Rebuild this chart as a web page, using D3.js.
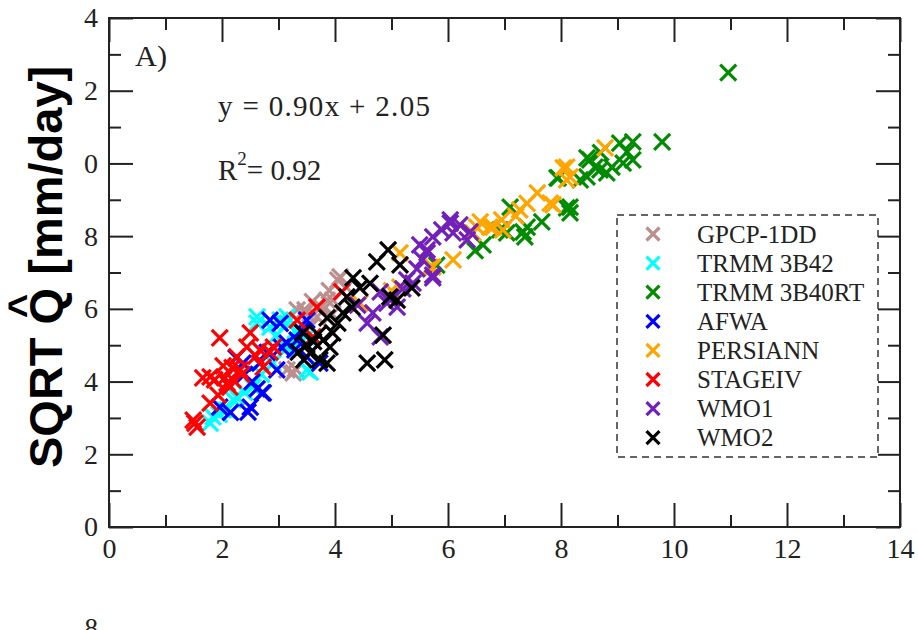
<!DOCTYPE html>
<html>
<head>
<meta charset="utf-8">
<script src="https://cdn.jsdelivr.net/npm/d3@7"></script>
<style>
  body { margin: 0; background: #fff; }
  svg { display: block; }
</style>
</head>
<body>
<svg width="918" height="630"></svg>
<script>
// series names and colours (xmgrace palette)
const seriesNames = ["GPCP-1DD", "TRMM 3B42", "TRMM 3B40RT", "AFWA", "PERSIANN", "STAGEIV", "WMO1", "WMO2"];
const seriesColors = ["#bc8f8f", "#00ffff", "#008b00", "#0000ff", "#ffa500", "#ff0000", "#7220b9", "#000000"];

// [x, y] pairs
const gpcp = [[3.15,4.32],[3.26,4.24],[3.30,4.35],[3.33,5.97],[3.47,5.97],[3.47,5.89],[3.56,5.50],[3.68,5.78],[3.86,6.24],[3.96,6.24],[4.05,6.79],[4.09,6.88],[3.90,6.50],[3.75,6.05],[4.20,6.60],[3.60,6.20],[3.95,5.85]];
const trmm3b42 = [[1.79,2.86],[1.84,3.03],[2.02,3.22],[2.09,3.22],[2.20,3.50],[2.26,3.58],[2.40,3.70],[2.55,3.85],[2.62,5.61],[2.62,5.78],[2.85,5.50],[3.03,5.69],[3.15,5.61],[3.15,5.78],[3.12,4.87],[3.15,4.95],[3.38,5.14],[3.50,4.32],[3.56,4.26],[3.50,5.23],[2.90,4.50],[2.70,4.20],[3.30,5.40],[2.95,5.25],[1.95,3.10]];
const trmm3b40rt = [[6.48,7.60],[6.62,7.76],[6.92,8.17],[7.04,8.09],[7.10,8.80],[7.33,8.12],[7.36,7.98],[7.40,8.25],[7.66,8.39],[7.93,9.60],[7.95,9.60],[8.10,8.78],[8.16,8.80],[8.16,8.64],[8.34,9.55],[8.46,9.63],[8.46,10.15],[8.51,10.10],[8.60,9.90],[8.69,9.82],[8.81,9.74],[8.90,9.90],[9.04,10.56],[9.10,10.01],[9.17,10.32],[9.27,10.10],[9.27,10.59],[9.79,10.59],[10.96,12.50],[8.70,10.30],[5.80,7.20]];
const afwa = [[1.96,3.30],[2.15,3.15],[2.46,3.16],[2.50,3.30],[2.62,3.80],[2.71,3.69],[2.73,3.69],[2.53,3.99],[2.37,4.51],[2.67,4.51],[2.97,4.32],[2.85,5.69],[3.03,5.60],[3.15,5.06],[3.29,4.87],[3.33,5.14],[3.50,5.69],[3.50,4.68],[3.73,4.51],[2.80,4.80],[3.05,4.95],[2.40,4.20],[2.25,4.65],[3.40,5.40]];
const persiann = [[4.44,6.16],[5.00,6.50],[5.15,6.60],[5.15,7.54],[5.68,7.15],[5.73,7.15],[6.09,7.35],[6.44,8.09],[6.51,8.25],[6.57,8.39],[6.74,8.25],[6.80,8.25],[6.97,8.17],[7.27,8.72],[7.40,8.90],[7.58,9.19],[7.81,8.91],[7.86,8.86],[8.04,9.88],[8.10,9.55],[8.10,9.90],[8.16,9.63],[8.78,10.43],[7.20,8.55],[6.95,8.45]];
const stageiv = [[1.49,2.94],[1.56,2.75],[1.52,2.86],[1.66,4.10],[1.79,4.13],[1.87,4.05],[1.96,5.20],[1.93,3.63],[1.79,3.41],[2.09,3.96],[2.14,3.85],[2.20,4.04],[2.32,4.32],[2.26,4.68],[2.44,4.95],[2.50,5.34],[2.67,4.87],[2.73,4.40],[2.85,4.81],[2.91,4.95],[3.33,5.69],[2.18,4.38],[2.02,4.43],[3.68,6.05],[4.12,6.47],[3.61,5.23],[2.05,4.10],[2.35,4.20],[2.60,4.70]];
const wmo1 = [[4.57,5.61],[4.67,5.89],[4.80,5.23],[4.80,6.47],[4.92,6.16],[5.10,6.05],[5.00,6.30],[5.27,6.80],[5.38,6.71],[5.45,7.10],[5.50,7.76],[5.63,7.54],[5.63,7.62],[5.73,7.98],[5.73,6.85],[5.73,6.93],[5.89,8.17],[6.04,8.36],[6.04,8.45],[6.09,8.09],[6.21,8.31],[6.34,7.90],[6.39,8.12],[5.55,7.35],[5.20,6.55],[4.40,6.10]];
const wmo2 = [[3.35,4.81],[3.43,5.34],[3.56,4.79],[3.62,5.10],[3.73,4.60],[3.79,5.14],[3.86,4.51],[3.86,5.75],[3.91,4.95],[3.96,5.34],[4.05,5.61],[4.14,5.89],[4.21,6.33],[4.30,6.05],[4.32,6.85],[4.44,6.58],[4.62,6.70],[4.74,7.29],[4.94,7.62],[4.97,6.33],[5.10,6.24],[5.15,7.21],[5.36,6.58],[4.85,5.28],[4.57,4.51],[4.88,4.60],[3.70,5.30],[3.50,5.00],[3.45,4.60]];

const seriesData = [gpcp, trmm3b42, trmm3b40rt, afwa, persiann, stageiv, wmo1, wmo2];

const xTicks = [0, 2, 4, 6, 8, 10, 12, 14];
const yTicks = [0, 2, 4, 6, 8, 10, 12, 14];
const minorTicks = [1, 3, 5, 7, 9, 11, 13];

const fitText = "y = 0.90x + 2.05";
const r2Value = "0.92";

const svg = d3.select('svg');
const margin = { top: 18, right: 18, bottom: 103, left: 109 };
const width = +svg.attr('width');
const height = +svg.attr('height');

const xScale = d3.scaleLinear().domain([0, 14]).range([margin.left, width - margin.right]);
const yScale = d3.scaleLinear().domain([0, 14]).range([height - margin.bottom, margin.top]);

const serif = "'Liberation Serif', 'Times New Roman', serif";
const ink = "#222";

// x marker path
const cross = s => `M${-s},${-s}L${s},${s}M${-s},${s}L${s},${-s}`;

// points
svg.append("g")
    .selectAll("g")
    .data(seriesData)
    .join("g")
        .attr("stroke", (d, i) => seriesColors[i])
        .attr("stroke-width", 3.2)
        .attr("fill", "none")
    .selectAll("path")
    .data(d => d)
    .join("path")
        .attr("transform", d => `translate(${xScale(d[0])},${yScale(d[1])})`)
        .attr("d", cross(8));

// axes with inward ticks on all four sides
const styleAxis = g => {
    g.selectAll(".domain").remove();
    g.selectAll("line").attr("stroke", ink).attr("stroke-width", 2);
    g.selectAll("text").attr("fill", ink).attr("font-family", serif).attr("font-size", 28);
};

const bottomY = height - margin.bottom;

svg.append("g")
    .attr("transform", `translate(0,${bottomY})`)
    .call(d3.axisBottom(xScale).tickValues(xTicks).tickSize(-24).tickPadding(11).tickFormat(d3.format("d")))
    .call(styleAxis);
svg.append("g")
    .attr("transform", `translate(0,${bottomY})`)
    .call(d3.axisBottom(xScale).tickValues(minorTicks).tickSize(-12).tickFormat(""))
    .call(styleAxis);

svg.append("g")
    .attr("transform", `translate(0,${margin.top})`)
    .call(d3.axisTop(xScale).tickValues(xTicks).tickSize(-24).tickFormat(""))
    .call(styleAxis);
svg.append("g")
    .attr("transform", `translate(0,${margin.top})`)
    .call(d3.axisTop(xScale).tickValues(minorTicks).tickSize(-12).tickFormat(""))
    .call(styleAxis);

// left labels lost their leading "1" where the figure was cropped
svg.append("g")
    .attr("transform", `translate(${margin.left},0)`)
    .call(d3.axisLeft(yScale).tickValues(yTicks).tickSize(-24).tickPadding(11).tickFormat(d => String(d % 10)))
    .call(styleAxis);
svg.append("g")
    .attr("transform", `translate(${margin.left},0)`)
    .call(d3.axisLeft(yScale).tickValues(minorTicks).tickSize(-12).tickFormat(""))
    .call(styleAxis);

svg.append("g")
    .attr("transform", `translate(${width - margin.right},0)`)
    .call(d3.axisRight(yScale).tickValues(yTicks).tickSize(-24).tickFormat(""))
    .call(styleAxis);
svg.append("g")
    .attr("transform", `translate(${width - margin.right},0)`)
    .call(d3.axisRight(yScale).tickValues(minorTicks).tickSize(-12).tickFormat(""))
    .call(styleAxis);

// frame
svg.append("rect")
    .attr("x", xScale(0)).attr("y", yScale(14))
    .attr("width", xScale(14) - xScale(0))
    .attr("height", yScale(0) - yScale(14))
    .attr("fill", "none").attr("stroke", ink).attr("stroke-width", 2);

// annotations
svg.append("text")
    .attr("x", 135).attr("y", 66)
    .attr("font-family", serif).attr("font-size", 29).attr("fill", ink)
    .attr("textLength", 32).attr("lengthAdjust", "spacingAndGlyphs")
    .text("A)");

svg.append("text")
    .attr("x", 218).attr("y", 116)
    .attr("font-family", serif).attr("font-size", 29).attr("fill", ink)
    .attr("textLength", 212).attr("lengthAdjust", "spacing")
    .text(fitText);

const r2 = svg.append("text")
    .attr("x", 218).attr("y", 180)
    .attr("font-family", serif).attr("font-size", 29).attr("fill", ink);
r2.append("tspan").text("R");
r2.append("tspan").attr("font-size", 19).attr("dy", -15).text("2");
r2.append("tspan").attr("dy", 15).text("= " + r2Value);

// legend
const legend = svg.append("g");
legend.append("rect")
    .attr("x", 617).attr("y", 215).attr("width", 261).attr("height", 242)
    .attr("fill", "#fff").attr("stroke", "#333").attr("stroke-width", 1.5)
    .attr("stroke-dasharray", "7,5");

const rows = legend.selectAll("g.row")
    .data(seriesNames)
    .join("g")
        .attr("class", "row")
        .attr("transform", (d, i) => `translate(653,${234 + i * 29.1})`);
rows.append("path")
    .attr("d", cross(6.5))
    .attr("stroke", (d, i) => seriesColors[i])
    .attr("stroke-width", 3.2);
rows.append("text")
    .attr("x", 44).attr("dy", "0.35em")
    .attr("font-family", serif).attr("font-size", 25).attr("fill", ink)
    .text(d => d);

// y axis title with a hat over Q
const title = svg.append("g").attr("transform", "translate(62,468) rotate(-90)");
const tt = title.append("text")
    .attr("font-family", "'Liberation Sans', Arial, sans-serif")
    .attr("font-weight", "bold").attr("font-size", 47).attr("fill", "#000");
tt.append("tspan").text("SQRT ");
tt.append("tspan").text("Q");
tt.append("tspan").text(" [mm/day]");
const qBox = tt.node().getExtentOfChar(5);
title.append("text")
    .attr("x", qBox.x + qBox.width / 2).attr("y", -24)
    .attr("text-anchor", "middle")
    .attr("font-family", "'Liberation Sans', Arial, sans-serif")
    .attr("font-weight", "bold").attr("font-size", 42).attr("fill", "#000")
    .text("^");

// top of the next panel's tick label, cut off at the bottom edge
svg.append("text")
    .attr("x", 98).attr("y", 637).attr("text-anchor", "end")
    .attr("font-family", serif).attr("font-size", 27).attr("fill", ink)
    .text("8");
</script>
</body>
</html>
